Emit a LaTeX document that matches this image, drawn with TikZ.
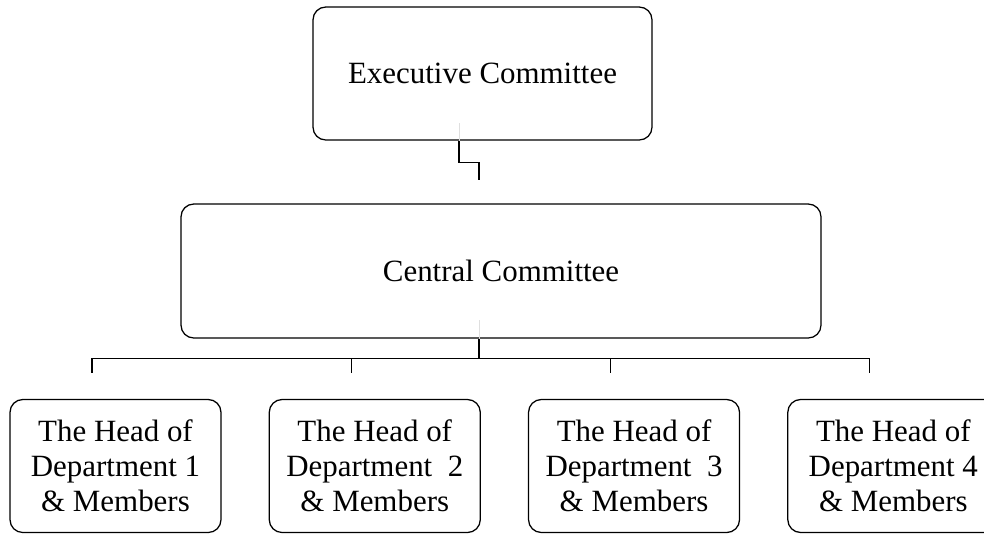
\documentclass[tikz,border=0pt]{standalone}
\usepackage{fontspec}
\setmainfont{Liberation Serif}
\usetikzlibrary{positioning, calc}

\begin{document}
\begin{tikzpicture}[
  % Node styles
  box/.style={draw, rounded corners=0.32cm, line width=0.9pt,
              align=center, font=\fontsize{22}{25}\selectfont},
  dept/.style={box, minimum width=5.275cm, minimum height=3.325cm},
  % Line styles
  link/.style={line width=0.9pt},
  faint/.style={line width=0.6pt, gray!25},
]

  \useasboundingbox (0,0) rectangle (24.6,-13.35);

  % ── Row 1: Executive ──
  \node[box, minimum width=8.475cm, minimum height=3.325cm] (exec) at (12.0625,-1.8375) {Executive Committee};

  % ── Row 2: Central ──
  \node[box, minimum width=16.0cm, minimum height=3.35cm] (central) at (12.525,-6.775) {Central Committee};

  % ── Row 3: Departments ──
  \node[dept] (d1) at (2.8875,-11.65) {The Head of\\Department 1\\\& Members};
  \node[dept, right=1.175cm of d1] (d2) {The Head of\\Department\ \ 2\\\& Members};
  \node[dept, right=1.175cm of d2] (d3) {The Head of\\Department\ \ 3\\\& Members};
  \node[dept, right=1.175cm of d3] (d4) {The Head of\\Department 4\\\& Members};

  % ── Executive to central (stub) ──
  \draw[faint] ([xshift=-0.5875cm]exec.south) -- ++(0,0.45);
  \draw[link] ([xshift=-0.5875cm]exec.south) |- ++(0.5,-0.55) coordinate (bend) -- ++(0,-0.425) coordinate (stub);

  % ── Central to departments ──
  \coordinate (bus) at ([xshift=-0.55cm, yshift=-0.5cm]central.south);
  \draw[faint] ([xshift=-0.55cm]central.south) -- ++(0,0.475);
  \draw[link] ([xshift=-0.55cm]central.south) -- (bus);
  \foreach \d in {d1,d2,d3,d4}
    \draw[link] (bus) -| ([xshift=-0.5875cm, yshift=0.65cm]\d.north);

\end{tikzpicture}
\end{document}
